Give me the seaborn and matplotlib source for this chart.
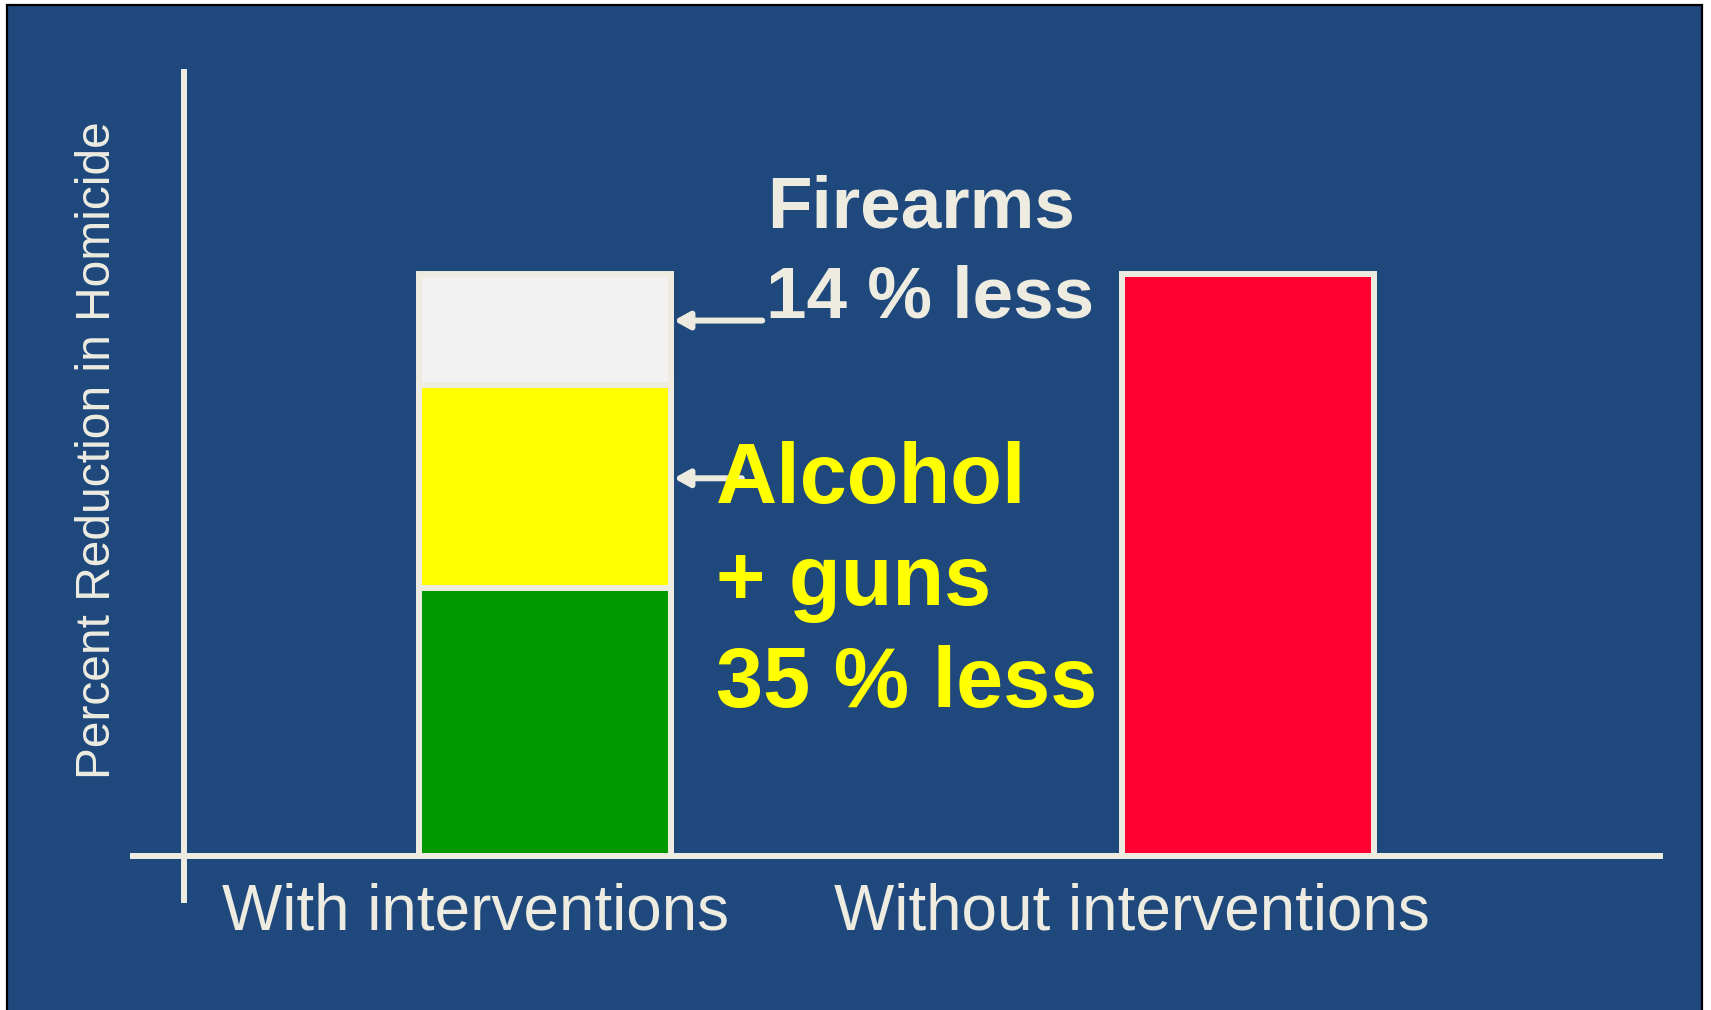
import matplotlib
matplotlib.use("Agg")
import matplotlib.pyplot as plt
import seaborn as sns
import pandas as pd
from matplotlib.patches import Rectangle

# ---------------- data ----------------
categories = ["With interventions", "Without interventions"]
remaining_with = [46]          # green segment (With interventions)
alcohol_guns_with = [35]       # yellow segment
firearms_with = [19]           # white segment
without_total = [100]          # red bar

ylabel = "Percent Reduction in Homicide"
firearms_lines = ["Firearms", "14 % less"]
alcohol_lines = ["Alcohol", "+ guns", "35 % less"]

# ---------------- style ----------------
BG = "#1F497D"
EDGE = "#EEECE1"
C_WHITE = "#F2F2F2"
C_YELLOW = "#FFFF00"
C_GREEN = "#009900"
C_RED = "#FF0033"

sns.set_theme(style="white")
plt.rcParams["font.family"] = ["Liberation Sans", "DejaVu Sans"]

W, H = 1711, 1010
fig = plt.figure(figsize=(W / 100, H / 100), dpi=100, facecolor="white")


def fx(x):
    return x / W


def fy(y):
    return 1 - y / H


fig.patches.append(Rectangle((fx(7), fy(1015)), fx(1702) - fx(7), fy(5) - fy(1015),
                             transform=fig.transFigure, facecolor=BG,
                             edgecolor="black", lw=1.6, zorder=-1))

ax_l, ax_r, ax_b, ax_t = 184, 1663, 856, 69
ax = fig.add_axes([fx(ax_l), fy(ax_b), fx(ax_r) - fx(ax_l), fy(ax_t) - fy(ax_b)])
ax.set_facecolor("none")

with_total = remaining_with[0] + alcohol_guns_with[0] + firearms_with[0]
df_total = pd.DataFrame({"group": categories, "value": [with_total, without_total[0]]})
df_mid = pd.DataFrame({"group": categories[:1],
                       "value": [remaining_with[0] + alcohol_guns_with[0]]})
df_low = pd.DataFrame({"group": categories[:1], "value": remaining_with})

unit_px = 703.0
bw = 252 / unit_px
lw = 4.3
sns.barplot(data=df_total, x="group", y="value", hue="group", order=categories,
            hue_order=categories, palette=[C_WHITE, C_RED], legend=False,
            width=bw, edgecolor=EDGE, linewidth=lw, saturation=1, ax=ax)
sns.barplot(data=df_mid, x="group", y="value", order=categories, color=C_YELLOW,
            width=bw, edgecolor=EDGE, linewidth=lw, saturation=1, ax=ax)
sns.barplot(data=df_low, x="group", y="value", order=categories, color=C_GREEN,
            width=bw, edgecolor=EDGE, linewidth=lw, saturation=1, ax=ax)

# scales
bar_px = 582.0
ymax = (ax_b - ax_t) / bar_px * 100
ax.set_ylim(0, ymax)
ax.set_xlim(-(545 - ax_l) / unit_px, (ax_r - 545) / unit_px)

for s in ax.spines.values():
    s.set_visible(False)
ax.set_xticks([])
ax.set_yticks([])
ax.set_xlabel("")
ax.set_ylabel("")

# axis lines
ax.plot([(130 - ax_l) / (ax_r - ax_l), 1], [0, 0], transform=ax.transAxes,
        color=EDGE, lw=lw, clip_on=False, solid_capstyle="butt", zorder=5)
ax.plot([0, 0], [-(903 - ax_b) / (ax_b - ax_t), 1], transform=ax.transAxes,
        color=EDGE, lw=lw, clip_on=False, solid_capstyle="butt", zorder=5)

# arrows
arrow_kw = dict(arrowstyle="-|>,head_length=0.9,head_width=0.5", mutation_scale=10,
                lw=lw, color=EDGE, shrinkA=0, shrinkB=0)
ax.annotate("", xy=(bw / 2 + 0.004, 92.0), xytext=(0.309, 92.0), arrowprops=arrow_kw,
            annotation_clip=False, zorder=6)
ax.annotate("", xy=(bw / 2 + 0.004, 64.9), xytext=(0.28, 64.9), arrowprops=arrow_kw,
            annotation_clip=False, zorder=6)

# annotation texts
for txt, (x, y) in zip(firearms_lines, [(767, 227), (766, 317)]):
    fig.text(fx(x), fy(y), txt, ha="left", va="baseline", fontsize=52.5,
             fontweight="bold", color=EDGE, zorder=10)
for txt, y in zip(alcohol_lines, [503, 605, 707]):
    fig.text(fx(716), fy(y), txt, ha="left", va="baseline", fontsize=61,
             fontweight="bold", color=C_YELLOW, zorder=10)

# category labels
for txt, x in zip(categories, [222, 834]):
    fig.text(fx(x), fy(929), txt, ha="left", va="baseline", fontsize=46, color=EDGE)

fig.text(fx(98), fy(450), ylabel, rotation=90, ha="center", va="center",
         fontsize=34.5, color=EDGE)

fig.savefig("out.png", dpi=100, facecolor=fig.get_facecolor())
